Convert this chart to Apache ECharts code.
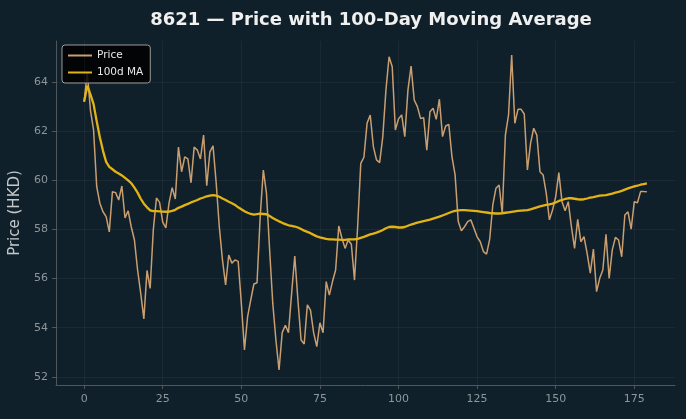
<!DOCTYPE html>
<html>
<head>
<meta charset="utf-8">
<script src="https://cdn.jsdelivr.net/npm/echarts@6/dist/echarts.min.js"></script>
<style>
  html, body { margin: 0; padding: 0; background: #10202a; }
  #chart { width: 686px; height: 419px; }
</style>
</head>
<body>
<div id="chart"></div>
<script>
// 收盘价 (HKD)，第 0 ~ 179 个交易日
const price = [
  63.2, 64.4, 62.86, 62.05, 59.74, 59.07, 58.72, 58.52, 57.9, 59.54,
  59.5, 59.2, 59.77, 58.47, 58.76, 58.1, 57.57, 56.35, 55.4, 54.36,
  56.33, 55.6, 57.98, 59.28, 59.1, 58.3, 58.06, 59.07, 59.7, 59.24,
  61.35, 60.35, 60.95, 60.87, 59.9, 61.35, 61.23, 60.87, 61.84, 59.78,
  61.16, 61.4, 59.9, 58.1, 56.76, 55.74, 56.96, 56.63, 56.76, 56.7,
  55.0, 53.1, 54.45, 55.13, 55.78, 55.83, 58.52, 60.42, 59.47, 57.17,
  55.0, 53.5, 52.28, 53.8, 54.1, 53.8, 55.4, 56.92, 55.13, 53.5,
  53.34, 54.93, 54.72, 53.8, 53.23, 54.2, 53.8, 55.88, 55.33, 55.88,
  56.35, 58.14, 57.64, 57.23, 57.57, 57.4, 55.94, 58.11, 60.69, 60.94,
  62.32, 62.66, 61.37, 60.83, 60.72, 61.78, 63.67, 65.03, 64.62, 62.05,
  62.5, 62.66, 61.78, 63.67, 64.65, 63.27, 63.0, 62.52, 62.55, 61.23,
  62.79, 62.93, 62.48, 63.3, 61.78, 62.21, 62.28, 60.96, 60.22, 58.32,
  57.95, 58.11, 58.32, 58.39, 58.05, 57.7, 57.5, 57.1, 57.0, 57.6,
  59.0, 59.68, 59.81, 58.66, 61.84, 62.66, 65.1, 62.32, 62.89, 62.89,
  62.7, 60.42, 61.5, 62.12, 61.84, 60.35, 60.22, 59.47, 58.39, 58.79,
  59.33, 60.31, 59.13, 58.76, 59.13, 58.11, 57.23, 58.41, 57.5, 57.71,
  57.03, 56.22, 57.2, 55.47, 56.01, 56.35, 57.8, 56.01, 57.17, 57.68,
  57.57, 56.89, 58.59, 58.72, 58.01, 59.13, 59.09, 59.54, 59.54, 59.53
]
// 100日均线
const ma100 = [
  63.2, 63.85, 63.5, 63.1, 62.4, 61.75, 61.2, 60.75, 60.55, 60.45,
  60.35, 60.28, 60.2, 60.1, 60.0, 59.88, 59.7, 59.5, 59.25, 59.05,
  58.9, 58.78, 58.75, 58.75, 58.74, 58.73, 58.72, 58.73, 58.76, 58.8,
  58.88, 58.93, 58.99, 59.04, 59.1, 59.15, 59.2, 59.26, 59.3, 59.35,
  59.38, 59.4, 59.38, 59.33, 59.26, 59.2, 59.13, 59.07, 59.0, 58.9,
  58.82, 58.74, 58.68, 58.63, 58.6, 58.62, 58.64, 58.63, 58.62, 58.55,
  58.47, 58.4, 58.33, 58.27, 58.22, 58.17, 58.15, 58.12, 58.08, 58.02,
  57.95, 57.9, 57.85, 57.78, 57.72, 57.68, 57.65, 57.62, 57.6, 57.6,
  57.59, 57.59, 57.58, 57.58, 57.6, 57.6, 57.6, 57.62, 57.66, 57.7,
  57.75, 57.8, 57.83, 57.87, 57.92, 57.98, 58.05, 58.1, 58.11, 58.1,
  58.08, 58.08, 58.1, 58.15, 58.2, 58.24, 58.28, 58.31, 58.34, 58.37,
  58.4, 58.44, 58.48, 58.52, 58.57, 58.62, 58.67, 58.72, 58.76, 58.78,
  58.79, 58.79, 58.78, 58.77, 58.76, 58.75, 58.73, 58.71, 58.69, 58.67,
  58.66, 58.65, 58.65, 58.66, 58.68, 58.7, 58.72, 58.74, 58.76, 58.77,
  58.78, 58.79, 58.82, 58.86, 58.9, 58.94, 58.97, 59.0, 59.02, 59.05,
  59.1, 59.16, 59.2, 59.24, 59.27, 59.27, 59.25, 59.23, 59.22, 59.23,
  59.26, 59.3, 59.32, 59.35, 59.38, 59.39, 59.4, 59.43, 59.46, 59.5,
  59.53, 59.57, 59.62, 59.67, 59.71, 59.75, 59.78, 59.82, 59.85, 59.88
]
// 刻度
const xTicks = [0, 25, 50, 75, 100, 125, 150, 175]
const yTicks = [52, 54, 56, 58, 60, 62, 64]

const chartIns = echarts.init(document.getElementById('chart'))
const labelColor = '#8d979b'
const spineColor = '#4e585c'
const gridColor = 'rgba(255,255,255,0.045)'
const priceColor = '#c99e70'
const maColor = '#e3b316'

const option = {
  animation: false,
  backgroundColor: '#10202a',
  textStyle: { fontFamily: 'DejaVu Sans' },
  title: {
    text: '8621 — Price with 100-Day Moving Average',
    left: 366,
    top: 6,
    textAlign: 'center',
    textStyle: { color: '#f0f0f0', fontSize: 18, fontWeight: 'bold', fontFamily: 'DejaVu Sans' }
  },
  // 图例：只画线段，不画圆点
  legend: {
    data: [
      { name: 'Price', icon: 'rect', itemStyle: { color: priceColor } },
      { name: '100d MA', icon: 'rect', itemStyle: { color: maColor } }
    ],
    left: 62,
    top: 45,
    orient: 'vertical',
    itemWidth: 24,
    itemHeight: 2,
    itemGap: 6,
    padding: [5, 7, 5, 6],
    backgroundColor: 'rgba(0,0,0,0.85)',
    borderColor: '#9a9a9a',
    borderWidth: 1,
    borderRadius: 3,
    textStyle: { color: '#e8e8e8', fontSize: 10.5 }
  },
  grid: { left: 56, right: 11, top: 41, bottom: 34 },
  xAxis: {
    type: 'value',
    min: -8.95,
    max: 187.95,
    axisLine: { show: true, onZero: false, lineStyle: { color: spineColor } },
    axisTick: { show: true, length: 4, customValues: xTicks, lineStyle: { color: spineColor } },
    axisLabel: { color: labelColor, fontSize: 11, margin: 9, customValues: xTicks },
    splitLine: { show: false }
  },
  yAxis: {
    type: 'value',
    min: 51.67,
    max: 65.67,
    name: 'Price (HKD)',
    nameLocation: 'middle',
    nameGap: 27,
    nameTextStyle: { color: '#c4c8ca', fontSize: 15 },
    axisLine: { show: true, onZero: false, lineStyle: { color: spineColor } },
    axisTick: { show: true, length: 4, customValues: yTicks, lineStyle: { color: spineColor } },
    axisLabel: { color: labelColor, fontSize: 11, margin: 8, customValues: yTicks },
    splitLine: { show: false }
  },
  series: [
    {
      name: 'Price',
      type: 'line',
      data: price.map((v, i) => [i, v]),
      symbol: 'none',
      lineStyle: { color: priceColor, width: 1.5 },
      itemStyle: { color: priceColor },
      // 网格线
      markLine: {
        silent: true,
        symbol: 'none',
        label: { show: false },
        lineStyle: { color: gridColor, type: 'solid', width: 1 },
        data: xTicks.map(v => ({ xAxis: v })).concat(yTicks.map(v => ({ yAxis: v })))
      },
      z: 2
    },
    {
      name: '100d MA',
      type: 'line',
      data: ma100.map((v, i) => [i, v]),
      symbol: 'none',
      lineStyle: { color: maColor, width: 2.3 },
      itemStyle: { color: maColor },
      z: 3
    }
  ]
}
chartIns.setOption(option)
</script>
</body>
</html>
